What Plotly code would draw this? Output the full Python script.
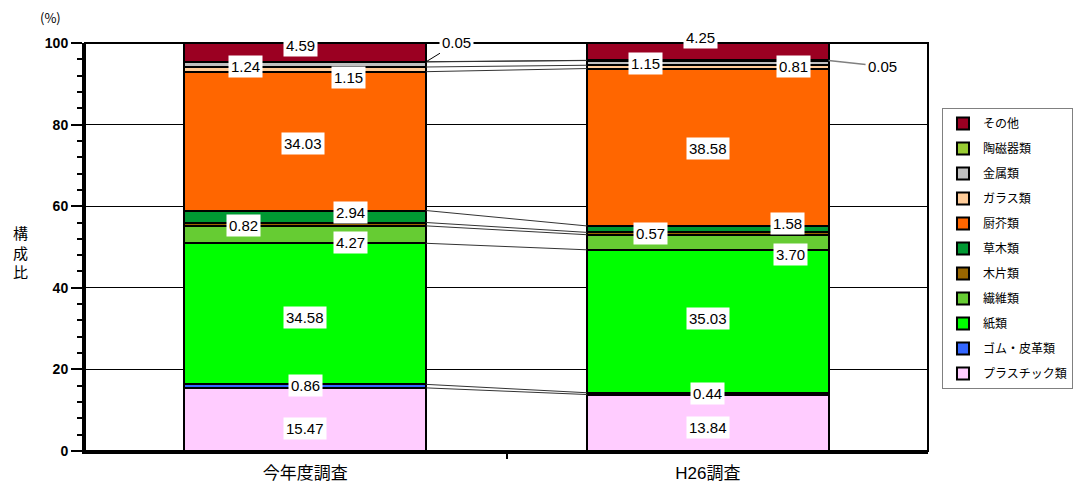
import plotly.graph_objects as go

# ---- data ----
surveys = ["今年度調査", "H26調査"]
categories = ["プラスチック類", "ゴム・皮革類", "紙類", "繊維類", "木片類", "草木類",
              "厨芥類", "ガラス類", "金属類", "陶磁器類", "その他"]
values_current = [15.47, 0.86, 34.58, 4.27, 0.82, 2.94, 34.03, 1.15, 1.24, 0.05, 4.59]
values_h26 = [13.84, 0.44, 35.03, 3.70, 0.57, 1.58, 38.58, 0.81, 1.15, 0.05, 4.25]
y_ticks = [0, 20, 40, 60, 80, 100]
y_title = "構成比"

# ---- style ----
colors = ["#FFCCFF", "#3366FF", "#00FF00", "#66CC33", "#996600", "#009933",
          "#FF6600", "#FFCC99", "#C0C0C0", "#99CC33", "#9B0022"]
# label pixel nudges (xshift, yshift) per category, per bar
shift_current = [(0, -9), (0, 1), (0, -4), (45, -8), (-62, -1), (45, 4),
                 (-2, -2), (43, -8), (-60, -2), None, (-5, 7)]
shift_h26 = [(0, -5), (0, 0), (0, 3), (83, -12), (-57, 0), (80, 6),
             (0, -1), (86, 0), (-62, -1), None, (-7, 14)]
FONT = "Liberation Sans, Arial, Noto Sans CJK JP"
BAR_W = 0.6
xpos = [0, 1]

fig = go.Figure()
n = len(categories)
for i, cat in enumerate(categories):
    fig.add_trace(go.Bar(
        x=xpos, y=[values_current[i], values_h26[i]], name=cat, width=BAR_W,
        marker=dict(color=colors[i], line=dict(color="black", width=2)),
        legendgroup=cat, legendrank=n - i, hoverinfo="name+y",
    ))

# cumulative tops
def cumul(vals):
    out, s = [], 0.0
    for v in vals:
        s += v
        out.append(s)
    return out

cum1 = cumul(values_current)
cum2 = cumul(values_h26)

# series lines between bars
for k in range(n - 1):
    fig.add_trace(go.Scatter(
        x=[xpos[0] + BAR_W / 2, xpos[1] - BAR_W / 2], y=[cum1[k], cum2[k]],
        mode="lines", line=dict(color="#333333", width=1),
        showlegend=False, hoverinfo="skip",
    ))

annotations = []
for vals, cum, shifts, xi in ((values_current, cum1, shift_current, 0),
                              (values_h26, cum2, shift_h26, 1)):
    for i, v in enumerate(vals):
        center = cum[i] - v / 2
        sh = shifts[i]
        if sh is None:
            continue
        annotations.append(dict(
            x=xpos[xi], y=center, text=f"{v:.2f}", showarrow=False,
            xshift=sh[0], yshift=sh[1], bgcolor="white", borderpad=2,
            font=dict(family=FONT, size=15, color="black"),
        ))

# outside labels for 陶磁器類
idx = categories.index("陶磁器類")
annotations.append(dict(
    x=xpos[0] + BAR_W / 2, y=cum1[idx] - values_current[idx] / 2,
    text=f"{values_current[idx]:.2f}", showarrow=True, arrowhead=0,
    arrowwidth=1, arrowcolor="black", ax=31, ay=-19, bgcolor="white", borderpad=2,
    font=dict(family=FONT, size=15, color="black"),
))
annotations.append(dict(
    x=xpos[1] + BAR_W / 2, y=cum2[idx] - values_h26[idx] / 2,
    text=f"{values_h26[idx]:.2f}", showarrow=True, arrowhead=0,
    arrowwidth=1.5, arrowcolor="#808080", ax=54, ay=6, bgcolor="white", borderpad=2,
    font=dict(family=FONT, size=15, color="black"),
))

# vertical (stacked) axis title
for j, ch in enumerate(y_title):
    annotations.append(dict(
        xref="paper", yref="paper", x=-0.077, y=0.4877, yshift=(1 - j) * 19.5,
        text=ch, showarrow=False,
        font=dict(family="Noto Sans CJK JP", size=15, color="black"),
        xanchor="center", yanchor="middle",
    ))
annotations.append(dict(
    xref="paper", yref="paper", x=-0.041, y=1.062, text="(%)",
    showarrow=False, font=dict(family="Noto Sans CJK JP", size=13, color="black"),
    xanchor="center", yanchor="middle",
))

fig.update_layout(
    width=1075, height=484,
    margin=dict(l=85, r=147, t=43, b=33, autoexpand=False),
    barmode="stack",
    plot_bgcolor="white", paper_bgcolor="white",
    font=dict(family=FONT, color="black"),
    annotations=annotations,
    showlegend=True,
    legend=dict(
        x=1.0166, y=0.8407, xanchor="left", yanchor="top",
        traceorder="grouped", tracegroupgap=6,
        bordercolor="#808080", borderwidth=1, bgcolor="white",
        font=dict(family=FONT, size=12, color="black"),
    ),
    shapes=[dict(type="rect", xref="paper", yref="paper", x0=0, y0=0, x1=1, y1=1,
                 line=dict(color="black", width=2), layer="below")],
)
fig.update_xaxes(
    range=[-0.547, 1.547], tickvals=xpos, ticktext=surveys, ticks="",
    showline=True, linecolor="black", linewidth=3, showgrid=False, zeroline=False,
    automargin=False, ticklabelstandoff=5,
    tickfont=dict(family=FONT, size=17, color="black"),
    minor=dict(tickvals=[0.5], ticks="outside", ticklen=5, tickwidth=2, tickcolor="black"),
)
fig.update_yaxes(
    range=[0, 100], tickvals=y_ticks, ticks="outside", ticklen=11, tickwidth=1.5,
    tickcolor="black", showline=True, linecolor="black", linewidth=3,
    showgrid=True, gridcolor="black", gridwidth=1, zeroline=False, automargin=False,
    tickfont=dict(family=FONT, size=14, color="black", weight="bold"),
    minor=dict(dtick=4, ticks="outside", ticklen=5, tickwidth=1.5, tickcolor="black",
               showgrid=False),
)

fig.write_html("out.html")
